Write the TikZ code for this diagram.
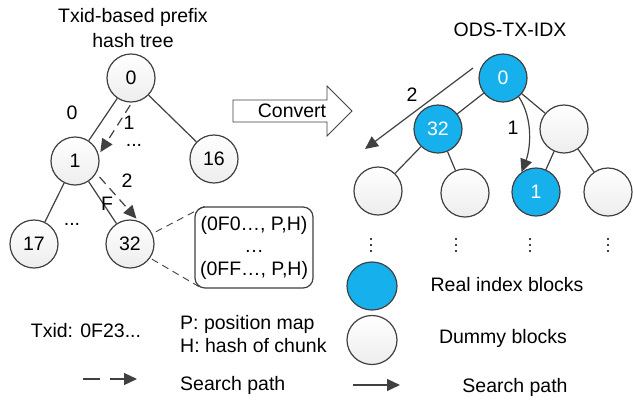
\documentclass[tikz,border=0pt]{standalone}
\usepackage{fontspec}
\setmainfont{Liberation Sans}
\usetikzlibrary{arrows.meta,calc,shapes.geometric}
\definecolor{lc}{HTML}{404040}
\definecolor{bluec}{HTML}{16B1EC}
\begin{document}
\begin{tikzpicture}[x=1pt,y=-1pt,font=\fontsize{19.5}{23}\selectfont,
  nd/.style={circle,draw=lc,line width=1.2pt,minimum size=48pt,inner sep=0pt,top color=white,bottom color=gray!14},
  bn/.style={circle,draw=lc,line width=1.2pt,minimum size=48pt,inner sep=0pt,fill=bluec,text=white},
  edge/.style={draw=lc,line width=1.2pt},
  tipa/.style={-{Triangle[length=13pt,width=12pt]}},
  dsh/.style={dash pattern=on 9pt off 6pt},
  lbl/.style={inner sep=0pt},
  dotty/.style={fill=black,draw=none}]
\useasboundingbox (0,0) rectangle (633,400);

% ---------- titles ----------
\node[lbl] (t1) at (133,17) {Txid-based prefix};
\node[lbl] (t2) at (133,41) {hash tree};
\node[lbl] (t3) at (510,30) {ODS-TX-IDX};

% ---------- left tree ----------
\node[nd] (n0) at (131,78) {0};
\node[nd] (n1) at (75,161) {1};
\node[nd] (n16) at (214,159) {16};
\node[nd] (n17) at (34,244) {17};
\node[nd] (n32) at (130,244) {32};
\draw[edge] (n0) -- (n1);
\draw[edge] (n0) -- (n16);
\draw[edge] (n1) -- (n17);
\draw[edge] (n1) -- (n32);
\draw[edge,tipa,dsh,shorten <=3pt,shorten >=3pt] (n0.-88) -- (n1.15);
\draw[edge,tipa,dsh,shorten <=5pt,shorten >=3pt] (n1.-30) -- (n32.70);
\node[lbl] (l0) at (72,113) {0};
\node[lbl] (l1) at (129,123) {1};
\node[lbl] (ld1) at (134,145) {...};
\node[lbl] (l2) at (127,181) {2};
\node[lbl] (lF) at (107,204) {F};
\node[lbl] (ld2) at (72,224) {...};

% ---------- box ----------
\node[draw=lc,line width=1.2pt,rounded corners=10pt,align=center,inner sep=1pt,
      minimum width=118pt,minimum height=81pt] (box) at (254,247.5)
      {(0F0…, P,H)\\[-1pt]…\\(0FF…, P,H)};
\draw[edge,dash pattern=on 7pt off 5pt,line width=0.9pt,shorten <=4pt] (n32.25) -- ([xshift=10pt]box.north west);
\draw[edge,dash pattern=on 7pt off 5pt,line width=0.9pt,shorten <=2pt] (n32.-35) -- ([xshift=8pt]box.south west);

% ---------- convert arrow ----------
\draw[draw=lc,line width=0.9pt,fill=white] (233,100) -- (327,100) -- (327,86) -- (352,111)
   -- (327,136) -- (327,122) -- (233,122) -- cycle;
\node[lbl] (conv) at (292,111) {Convert};

% ---------- right tree ----------
\node[bn] (r0) at (503,78) {0};
\node[bn] (r32) at (438,129) {32};
\node[nd] (rr) at (564,129) {};
\node[nd] (la) at (378,191) {};
\node[nd] (lb) at (465,193) {};
\node[bn] (r1) at (536,192) {1};
\node[nd] (ldd) at (608,192) {};
\draw[edge] (r0) -- (r32);
\draw[edge] (r0) -- (rr);
\draw[edge] (r32) -- (la);
\draw[edge] (r32) -- (lb);
\draw[edge] (rr) -- (r1);
\draw[edge] (rr) -- (ldd);

\coordinate (s2) at (473,68);
\coordinate (e2) at (365,149);
\draw[edge,tipa] (s2) -- (e2);
\node[lbl] (lr2) at (412,95) {2};
\draw[edge,tipa] (r0.-50) .. controls (534,120) and (530,150) .. (r1.126);
\node[lbl] (lr1) at (513,128) {1};

\foreach \xx in {371,456,530,608}{
  \fill[dotty] (\xx,239) circle (1.2pt);
  \fill[dotty] (\xx,245) circle (1.2pt);
  \fill[dotty] (\xx,251) circle (1.2pt);
}

% ---------- legend ----------
\node[lbl] (txid) at (86,331) {Txid: 0F23...};
\node[lbl,anchor=west] (pm) at (180,324) {P: position map};
\node[lbl,anchor=west] (hc) at (180,346) {H: hash of chunk};
\coordinate (lg1) at (83,379);
\coordinate (lg2) at (137,379);
\draw[edge,tipa,dash pattern=on 17pt off 10pt] (lg1) -- (lg2);
\node[lbl,anchor=west] (sp1) at (180,385) {Search path};

\node[bn,ellipse,minimum width=50pt,minimum height=48pt] (legb) at (372,286) {};
\node[nd,ellipse,minimum width=50pt,minimum height=49pt] (legw) at (372,340) {};
\node[lbl] (rib) at (507,285) {Real index blocks};
\node[lbl] (dmb) at (503,338) {Dummy blocks};
\coordinate (lg3) at (353,385);
\coordinate (lg4) at (400,385);
\draw[edge,tipa] (lg3) -- (lg4);
\node[lbl] (sp2) at (515,387) {Search path};
\end{tikzpicture}
\end{document}
